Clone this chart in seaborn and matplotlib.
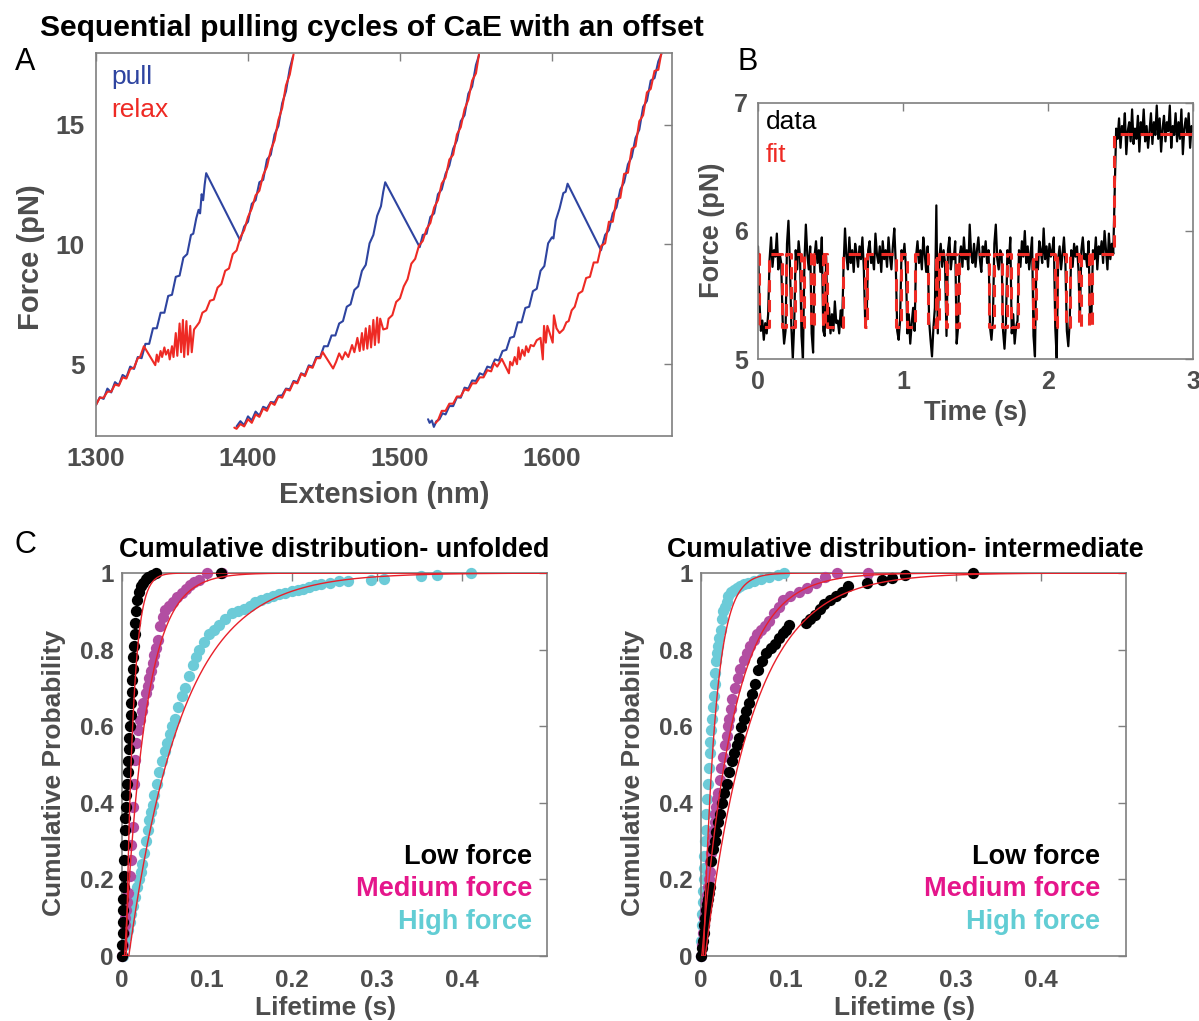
import numpy as np
import pandas as pd
import matplotlib
matplotlib.use("Agg")
import matplotlib.pyplot as plt
import seaborn as sns

# ---------------- Panel A: force-extension traces ----------------
c1_pull_ext = [1300.0,1302.5,1305.0,1307.5,1310.0,1312.5,1315.0,1317.5,1320.0,1322.5,1325.0,1327.5,1330.0,1332.5,1335.0,1337.5,1340.0,1342.5,1345.0,1347.5,1350.0,1352.5,1355.0,1357.5,1360.0,1362.5,1364.0,1366.0,1367.5,1368.5,1369.5,1370.5,1371.5,1372.5,1394.9,1397.5,1400.0,1402.5,1405.0,1407.5,1410.0,1412.5,1415.0,1417.5,1420.0,1422.5,1425.0,1427.5,1429.6]
c1_pull_f = [3.30,3.62,3.55,3.98,3.82,4.25,4.12,4.55,4.45,4.90,4.80,5.30,5.25,5.85,5.85,6.50,6.50,7.15,7.15,7.85,7.90,8.65,8.70,9.45,9.60,10.40,10.45,11.10,11.45,11.30,12.10,11.85,12.50,12.98,10.17,10.75,10.95,11.70,11.85,12.60,12.70,13.55,13.75,14.60,14.95,15.90,16.40,17.35,17.85]
c1_relax_ext = [1430.0,1427.5,1425.0,1422.5,1420.0,1417.5,1415.0,1412.5,1410.0,1407.5,1405.0,1402.5,1400.0,1397.5,1395.0,1392.5,1390.0,1387.5,1385.0,1382.5,1380.0,1377.5,1375.0,1372.5,1370.0,1368.0,1366.3,1364.5,1363.0,1362.0,1360.5,1359.5,1358.0,1357.2,1356.0,1355.0,1353.5,1352.5,1351.0,1350.0,1348.5,1347.5,1346.0,1345.0,1343.5,1342.5,1341.0,1340.0,1339.0,1331.5,1329.0,1327.5,1325.0,1322.5,1320.0,1317.5,1315.0,1312.5,1310.0,1307.5,1305.0,1302.5,1300.0]
c1_relax_f = [17.95,17.10,16.65,15.70,15.20,14.35,13.95,13.25,12.90,12.25,12.05,11.50,11.15,10.60,10.30,9.75,9.60,9.00,8.90,8.35,8.20,7.70,7.65,7.25,7.15,6.75,6.60,6.45,5.50,6.60,5.40,6.80,5.30,6.85,5.50,6.70,5.35,6.30,5.30,5.75,5.20,5.60,5.40,5.70,5.30,5.55,5.10,5.40,4.96,5.75,5.30,5.25,4.85,4.80,4.40,4.45,4.10,4.15,3.85,3.85,3.60,3.60,3.30]

c2_pull_ext = [1392.5,1395.0,1397.5,1400.0,1402.5,1405.0,1407.5,1410.0,1412.5,1415.0,1417.5,1420.0,1422.5,1425.0,1427.5,1430.0,1432.5,1435.0,1437.5,1440.0,1442.5,1445.0,1447.5,1450.0,1452.5,1455.0,1457.5,1460.0,1462.5,1465.0,1467.5,1470.0,1472.5,1475.0,1477.5,1480.0,1482.5,1485.0,1487.5,1489.0,1490.3,1513.0,1515.0,1517.5,1520.0,1522.5,1525.0,1527.5,1530.0,1532.5,1535.0,1537.5,1540.0,1542.5,1545.0,1547.5,1550.0,1552.0]
c2_pull_f = [2.40,2.62,2.45,2.82,2.65,3.02,2.85,3.22,3.15,3.42,3.40,3.68,3.70,3.98,3.95,4.30,4.25,4.62,4.55,4.95,4.90,5.30,5.30,5.75,5.75,6.20,6.20,6.70,6.80,7.40,7.50,8.10,8.25,8.90,9.15,10.05,10.40,11.20,11.60,12.20,12.60,9.89,10.40,10.45,11.15,11.30,12.10,12.30,12.95,13.30,14.00,14.35,15.15,15.40,16.30,16.60,17.50,17.90]
c2_relax_ext = [1552.0,1550.0,1547.5,1545.0,1542.5,1540.0,1537.5,1535.0,1532.5,1530.0,1527.5,1525.0,1522.5,1520.0,1517.5,1515.0,1512.5,1510.0,1507.5,1505.0,1502.5,1500.0,1497.5,1495.0,1492.5,1491.5,1489.0,1487.0,1486.0,1485.0,1483.5,1482.5,1481.0,1480.0,1478.5,1477.5,1476.0,1475.0,1473.5,1472.0,1470.0,1468.5,1466.0,1464.0,1462.0,1460.0,1458.0,1456.0,1449.1,1447.5,1445.0,1442.5,1440.0,1437.5,1435.0,1432.5,1430.0,1427.5,1425.0,1422.5,1420.0,1417.5,1415.0,1412.5,1410.0,1407.5,1405.0,1402.5,1400.0,1397.5,1395.0,1392.5,1391.0]
c2_relax_f = [17.95,17.15,16.85,16.05,15.65,14.90,14.60,13.75,13.55,12.80,12.55,11.85,11.55,10.90,10.65,10.15,9.95,9.40,9.20,8.55,8.25,7.75,7.60,7.05,6.90,6.50,6.45,6.90,5.90,6.95,5.80,6.85,5.70,6.60,5.65,6.50,5.60,6.30,5.55,6.10,5.50,5.80,5.30,5.50,5.20,5.45,5.10,4.82,5.51,5.25,5.25,4.85,4.90,4.50,4.60,4.20,4.25,3.90,3.95,3.60,3.65,3.30,3.40,3.05,3.15,2.80,2.90,2.55,2.70,2.40,2.50,2.30,2.35]

c3_pull_ext = [1518.5,1519.5,1521.0,1522.3,1524.0,1526.0,1528.0,1530.0,1532.5,1535.0,1537.5,1540.0,1542.5,1545.0,1547.5,1550.0,1552.5,1555.0,1557.5,1560.0,1562.5,1565.0,1567.5,1570.0,1572.5,1575.0,1577.5,1580.0,1582.5,1585.0,1587.5,1590.0,1592.5,1595.0,1597.5,1600.0,1601.0,1602.5,1605.0,1607.5,1609.0,1610.3,1632.3,1635.0,1637.5,1640.0,1642.5,1645.0,1647.5,1650.0,1652.5,1655.0,1657.5,1660.0,1662.5,1665.0,1667.5,1670.0,1672.0]
c3_pull_f = [2.70,2.55,2.65,2.38,2.62,2.70,2.95,2.90,3.25,3.25,3.62,3.60,4.02,3.98,4.32,4.30,4.62,4.55,4.90,4.85,5.20,5.15,5.55,5.60,6.10,6.15,6.75,6.75,7.35,7.40,8.05,8.15,8.90,9.10,10.05,10.30,10.25,11.00,11.50,12.15,12.20,12.54,9.76,10.40,10.60,11.30,11.55,12.30,12.60,13.35,13.65,14.45,14.80,15.75,16.00,16.85,16.95,17.65,17.95]
c3_relax_ext = [1672.0,1670.0,1667.5,1665.0,1662.5,1660.0,1657.5,1655.0,1652.5,1650.0,1647.5,1645.0,1642.5,1640.0,1637.5,1635.0,1632.5,1630.0,1627.5,1625.0,1622.5,1620.0,1617.5,1615.0,1613.0,1611.0,1609.5,1607.5,1605.0,1603.0,1601.3,1600.5,1599.0,1597.0,1596.0,1594.8,1594.0,1592.5,1590.0,1588.0,1586.0,1584.5,1583.0,1582.0,1580.5,1579.0,1578.0,1577.0,1575.5,1574.0,1572.5,1571.7,1567.0,1564.0,1562.0,1560.0,1557.5,1555.0,1552.5,1550.0,1547.5,1545.0,1542.5,1540.0,1537.5,1535.0,1532.5,1530.0,1527.5,1525.0,1523.5]
c3_relax_f = [18.00,17.30,17.25,16.50,16.35,15.40,15.15,14.10,14.00,13.00,12.95,11.95,11.90,10.95,10.95,10.05,9.95,9.25,9.25,8.65,8.60,8.05,7.95,7.40,7.25,6.80,6.75,6.45,6.30,6.50,7.04,5.90,6.20,6.60,5.90,6.60,5.20,6.10,6.00,5.75,5.80,5.50,5.75,5.35,5.60,5.20,5.70,5.00,5.30,4.95,5.10,4.62,5.22,4.90,5.05,4.70,4.75,4.45,4.45,4.20,4.20,3.90,3.95,3.65,3.65,3.35,3.35,3.05,3.05,2.65,2.55]

# ---------------- Panel B: force vs time ----------------
time_step = 0.01
force_data = [
    5.88, 5.45, 5.22, 5.30, 5.15, 5.28, 5.20, 5.35, 5.78, 5.95,
    5.72, 5.85, 5.80, 5.98, 5.70, 5.82, 5.75, 5.30, 5.12, 5.22,
    5.90, 6.08, 5.75, 5.25, 5.00, 5.28, 5.85, 5.70, 5.92, 5.80,
    5.18, 5.00, 5.75, 6.05, 5.82, 5.70, 5.88, 5.20, 5.05, 5.80,
    5.92, 5.75, 5.85, 5.68, 5.95, 5.22, 5.18, 5.80, 5.25, 5.40,
    5.20, 5.35, 5.22, 5.45, 5.28, 5.30, 5.20, 5.38, 5.25, 5.72,
    6.02, 5.80, 5.70, 5.95, 5.75, 5.85, 5.68, 5.90, 5.82, 5.72,
    5.88, 5.78, 5.95, 5.70, 5.25, 5.35, 5.85, 5.92, 5.75, 5.80,
    5.70, 5.98, 5.82, 5.75, 5.88, 5.68, 5.92, 5.78, 5.85, 5.72,
    5.95, 5.80, 5.70, 5.88, 6.02, 5.75, 5.22, 5.15, 5.30, 5.85,
    5.78, 5.90, 5.72, 5.20, 5.35, 5.12, 5.28, 5.40, 5.22, 5.80,
    5.92, 5.75, 5.85, 5.70, 5.95, 5.82, 5.68, 5.88, 5.30, 5.15,
    5.02, 5.25, 5.40, 6.20, 5.20, 5.78, 5.90, 5.72, 5.85, 5.75,
    5.18, 5.85, 5.95, 5.70, 5.82, 5.78, 5.92, 5.12, 5.25, 5.80,
    5.88, 5.72, 5.95, 5.78, 5.85, 5.70, 6.05, 5.82, 5.75, 5.90,
    5.72, 5.85, 5.95, 5.78, 5.68, 5.88, 5.80, 5.92, 5.75, 5.85,
    5.25, 5.15, 5.30, 5.90, 6.05, 5.78, 5.70, 5.85, 5.82, 5.22,
    5.08, 5.28, 5.85, 5.75, 5.95, 5.20, 5.35, 5.12, 5.25, 5.30,
    5.85, 5.72, 5.92, 5.80, 6.00, 5.75, 5.88, 5.70, 5.82, 5.95,
    5.18, 5.02, 5.80, 5.70, 5.92, 5.85, 5.75, 6.02, 5.78, 5.88,
    5.72, 5.90, 5.80, 5.85, 5.95, 5.25, 5.00, 5.78, 5.88, 5.70,
    5.82, 5.95, 5.75, 5.22, 5.10, 5.30, 5.85, 5.72, 5.90, 5.80,
    5.88, 5.70, 5.30, 5.85, 5.95, 5.78, 5.82, 5.72, 5.92, 5.28,
    5.35, 5.85, 5.78, 5.95, 5.70, 5.88, 5.82, 5.92, 5.75, 6.00,
    5.85, 5.70, 5.98, 5.78, 5.90, 5.82, 6.30, 6.80, 6.72, 6.88,
    6.65, 6.82, 6.75, 6.92, 6.60, 6.78, 6.85, 6.70, 6.95, 6.68,
    6.80, 6.72, 6.90, 6.62, 6.85, 6.75, 6.95, 6.70, 6.82, 6.65,
    6.78, 6.92, 6.68, 6.85, 6.75, 6.98, 6.72, 6.88, 6.62, 6.80,
    6.90, 6.70, 6.85, 6.78, 6.98, 6.65, 6.82, 6.75, 6.92, 6.70,
    6.85, 6.72, 6.95, 6.60, 6.80, 6.88, 6.75, 6.92, 6.65, 6.82,
    6.78]
fit_low_start = [0.005,0.165,0.225,0.295,0.365,0.445,0.475,0.735,0.955,1.025,1.175,1.235,1.295,1.365,1.595,1.685,1.745,1.895,2.045,2.125,2.215,2.285]
fit_low_end   = [0.075,0.195,0.255,0.315,0.385,0.465,0.585,0.755,0.985,1.085,1.225,1.245,1.305,1.385,1.625,1.715,1.795,1.915,2.065,2.155,2.225,2.305]
fit_levels = [5.82, 5.25, 6.76]
fit_step_time = 2.455

# ---------------- Panel C: cumulative distributions ----------------
lo_unf_t = [0,0.0003,0.0006,0.001,0.0013,0.0016,0.002,0.0023,0.0027,0.003,0.0035,0.004,0.0045,0.005,0.0058,0.0065,0.0072,0.008,0.0087,0.0093,0.010,0.0106,0.0112,0.0118,0.0125,0.0132,0.014,0.0148,0.0155,0.0165,0.018,0.020,0.022,0.025,0.028,0.031,0.035,0.040,0.117]
lo_unf_p = [0,.03,.06,.09,.12,.15,.18,.21,.25,.29,.33,.36,.39,.42,.45,.48,.51,.54,.57,.60,.63,.66,.69,.72,.75,.78,.81,.84,.87,.90,.93,.95,.965,.975,.985,.99,.995,1.0,1.0]
me_unf_t = [0,0.001,0.002,0.003,0.004,0.005,0.006,0.0075,0.009,0.010,0.011,0.0125,0.0135,0.0145,0.0155,0.017,0.019,0.021,0.023,0.025,0.028,0.030,0.032,0.034,0.036,0.038,0.040,0.042,0.045,0.048,0.051,0.055,0.060,0.065,0.070,0.075,0.080,0.085,0.090,0.100,0.118]
me_unf_p = [0,.03,.06,.08,.10,.12,.14,.164,.21,.25,.29,.338,.39,.45,.512,.555,.59,.615,.64,.66,.686,.705,.725,.745,.765,.785,.805,.825,.861,.885,.904,.915,.925,.938,.948,.958,.968,.976,.983,1.0,1.0]
hi_unf_t = [0.001,0.003,0.005,0.007,0.009,0.011,0.013,0.0155,0.018,0.020,0.022,0.024,0.026,0.028,0.030,0.032,0.034,0.036,0.038,0.041,0.044,0.047,0.050,0.053,0.056,0.059,0.062,0.066,0.070,0.074,0.079,0.083,0.087,0.091,0.096,0.102,0.108,0.114,0.121,0.129,0.136,0.143,0.150,0.156,0.163,0.170,0.178,0.185,0.192,0.200,0.207,0.213,0.220,0.227,0.234,0.245,0.255,0.266,0.293,0.308,0.352,0.371,0.411]
hi_unf_p = [0,.03,.05,.067,.09,.11,.13,.154,.18,.20,.22,.24,.27,.30,.33,.355,.375,.395,.42,.45,.48,.51,.535,.555,.58,.60,.62,.65,.68,.70,.73,.76,.78,.80,.82,.84,.85,.865,.88,.895,.90,.905,.913,.925,.93,.935,.94,.945,.948,.952,.955,.958,.963,.969,.972,.975,.978,.978,.983,.984,.991,.995,1.0]

lo_int_t = [0,0.001,0.002,0.003,0.004,0.005,0.006,0.007,0.008,0.009,0.010,0.0117,0.014,0.016,0.018,0.020,0.022,0.025,0.0274,0.030,0.033,0.036,0.039,0.042,0.045,0.047,0.050,0.053,0.056,0.060,0.064,0.0676,0.072,0.077,0.082,0.087,0.092,0.097,0.100,0.103,0.123,0.128,0.134,0.140,0.145,0.152,0.159,0.166,0.173,0.195,0.213,0.225,0.240,0.320]
lo_int_p = [0,.02,.04,.06,.08,.10,.12,.135,.15,.164,.18,.247,.28,.30,.325,.35,.37,.40,.425,.45,.48,.51,.53,.55,.57,.599,.62,.64,.66,.685,.71,.747,.77,.79,.805,.815,.83,.843,.85,.865,.87,.88,.89,.905,.92,.93,.94,.95,.965,.974,.983,.987,.996,1.0]
me_int_t = [0,0.001,0.002,0.003,0.004,0.005,0.006,0.007,0.008,0.009,0.010,0.011,0.012,0.013,0.014,0.015,0.016,0.017,0.018,0.019,0.020,0.022,0.024,0.026,0.028,0.030,0.0315,0.033,0.035,0.037,0.040,0.043,0.046,0.050,0.054,0.058,0.062,0.066,0.070,0.075,0.080,0.086,0.092,0.097,0.105,0.115,0.125,0.135,0.146,0.160,0.197]
me_int_p = [0,.03,.06,.08,.10,.12,.14,.16,.18,.20,.22,.245,.27,.29,.31,.33,.35,.37,.39,.41,.425,.46,.49,.52,.55,.575,.60,.62,.645,.67,.70,.725,.75,.773,.79,.81,.825,.84,.85,.861,.875,.895,.91,.93,.94,.95,.962,.973,.99,1.0,1.0]
hi_int_t = [0,0.0005,0.001,0.0015,0.002,0.0025,0.003,0.0035,0.004,0.005,0.0055,0.006,0.007,0.008,0.009,0.010,0.011,0.012,0.013,0.014,0.015,0.016,0.017,0.018,0.019,0.020,0.021,0.023,0.025,0.026,0.028,0.030,0.032,0.035,0.039,0.042,0.046,0.050,0.055,0.062,0.070,0.080,0.090,0.098]
hi_int_p = [0,.04,.08,.11,.14,.17,.20,.23,.26,.30,.33,.37,.41,.45,.49,.53,.56,.59,.62,.65,.68,.71,.74,.77,.79,.81,.83,.85,.88,.90,.91,.925,.94,.95,.956,.96,.965,.97,.975,.98,.985,.99,.995,1.0]

# exponential fits: (onset, time constant) for low, medium, high force
fit_onset_unf = [0.005, 0.003, 0.008]
fit_tau_unf = [0.0082, 0.025, 0.063]
fit_onset_int = [0.005, 0.001, 0.003]
fit_tau_int = [0.056, 0.038, 0.014]

force_names = ["Low force", "Medium force", "High force"]
dot_colors = ["#000000", "#b24ea2", "#6ccbd8"]
legend_colors = ["#000000", "#e5168b", "#62cdd4"]

# ---------------- styling ----------------
sns.set_theme(style="white")
plt.rcParams["font.family"] = ["Liberation Sans", "DejaVu Sans"]
plt.rcParams["font.weight"] = "bold"
plt.rcParams["axes.labelweight"] = "bold"

W, H = 1199, 1021
fig = plt.figure(figsize=(W / 100, H / 100), dpi=100)

def px_axes(left, top, right, bottom):
    return fig.add_axes([left / W, 1 - bottom / H, (right - left) / W, (bottom - top) / H])

axA = px_axes(96, 53, 672, 436)
axB = px_axes(758, 103, 1193, 359)
axC1 = px_axes(122, 573, 547, 956)
axC2 = px_axes(701, 573, 1126, 956)

GRAY = "#7f7f7f"
LABEL = "#4d4d4d"

def style(ax, tsize, xpad, ypad):
    for sp in ax.spines.values():
        sp.set_color(GRAY)
        sp.set_linewidth(1.2)
    ax.tick_params(direction="in", length=6, width=1.0, color=GRAY,
                   top=True, right=True, labelcolor=LABEL, labelsize=tsize)
    ax.tick_params(axis="x", pad=xpad)
    ax.tick_params(axis="y", pad=ypad)
    ax.grid(False)

BLUE = "#2e44a0"
RED = "#ee2a24"

# ---- Panel A ----
for ex, f in [(c1_pull_ext, c1_pull_f), (c2_pull_ext, c2_pull_f), (c3_pull_ext, c3_pull_f)]:
    sns.lineplot(x=ex, y=f, ax=axA, color=BLUE, lw=1.5, sort=False, estimator=None)
for ex, f in [(c1_relax_ext, c1_relax_f), (c2_relax_ext, c2_relax_f), (c3_relax_ext, c3_relax_f)]:
    sns.lineplot(x=ex, y=f, ax=axA, color=RED, lw=1.5, sort=False, estimator=None)
axA.set_xlim(1300, 1679)
axA.set_ylim(2.0, 18.0)
axA.set_xticks([1300, 1400, 1500, 1600])
axA.set_yticks([5, 10, 15])
style(axA, 19, 8, 8)
axA.set_xlabel("Extension (nm)", fontsize=21, color=LABEL)
axA.set_ylabel("Force (pN)", fontsize=21, color=LABEL)
axA.xaxis.set_label_coords(0.5, -0.154)
axA.xaxis.label.set_va("center")
axA.yaxis.set_label_coords(-0.113, 0.468)
axA.yaxis.label.set_va("center")
axA.text(0.026, 0.938, "pull", transform=axA.transAxes, color=BLUE, fontsize=19,
         fontweight="normal", va="center", ha="left")
axA.text(0.026, 0.851, "relax", transform=axA.transAxes, color=RED, fontsize=19,
         fontweight="normal", va="center", ha="left")

# ---- Panel B ----
t_data = np.arange(len(force_data)) * time_step
sns.lineplot(x=t_data, y=force_data, ax=axB, color="black", lw=1.6, sort=False, estimator=None)
fit_t = [0.0]
fit_f = [fit_levels[0]]
for a, b in zip(fit_low_start, fit_low_end):
    fit_t += [a, a, b, b]
    fit_f += [fit_levels[0], fit_levels[1], fit_levels[1], fit_levels[0]]
fit_t += [fit_step_time, fit_step_time, 3.0]
fit_f += [fit_levels[0], fit_levels[2], fit_levels[2]]
sns.lineplot(x=fit_t, y=fit_f, ax=axB, color=RED, lw=2.2, sort=False, estimator=None,
             linestyle=(0, (4, 2.5)))
axB.set_xlim(0, 3)
axB.set_ylim(5, 7)
axB.set_xticks([0, 1, 2, 3])
axB.set_yticks([5, 6, 7])
style(axB, 18, 8, 7)
axB.set_xlabel("Time (s)", fontsize=19.5, color=LABEL)
axB.set_ylabel("Force (pN)", fontsize=19.5, color=LABEL)
axB.xaxis.set_label_coords(0.499, -0.212)
axB.xaxis.label.set_va("center")
axB.yaxis.set_label_coords(-0.106, 0.504)
axB.yaxis.label.set_va("center")
axB.text(0.018, 0.926, "data", transform=axB.transAxes, color="black", fontsize=19,
         fontweight="normal", va="center", ha="left")
axB.text(0.018, 0.797, "fit", transform=axB.transAxes, color=RED, fontsize=19,
         fontweight="normal", va="center", ha="left")

# ---- Panel C ----
tfit = np.linspace(0, 0.5, 800)

def cdf_panel(ax, series, order, onsets, taus, legend_x, title_x, title):
    for i in order:
        t, p = series[i]
        sns.scatterplot(x=t, y=p, ax=ax, color=dot_colors[i], s=66, linewidth=0,
                        clip_on=False, zorder=2 + order.index(i))
    for x0, tau in zip(onsets, taus):
        yfit = np.where(tfit > x0, 1 - np.exp(-(tfit - x0) / tau), 0.0)
        sns.lineplot(x=tfit, y=yfit, ax=ax, color="#e8202a", lw=1.0, zorder=10)
    ax.set_xlim(0, 0.5)
    ax.set_ylim(0, 1)
    ax.set_xticks([0, 0.1, 0.2, 0.3, 0.4])
    ax.set_xticklabels(["0", "0.1", "0.2", "0.3", "0.4"])
    ax.set_yticks([0, 0.2, 0.4, 0.6, 0.8, 1.0])
    ax.set_yticklabels(["0", "0.2", "0.4", "0.6", "0.8", "1"])
    style(ax, 17.5, 9, 6)
    ax.set_xlabel("Lifetime (s)", fontsize=19, color=LABEL)
    ax.set_ylabel("Cumulative Probability", fontsize=19, color=LABEL)
    ax.xaxis.set_label_coords(0.48, -0.136)
    ax.xaxis.label.set_va("center")
    ax.yaxis.set_label_coords(-0.161, 0.479)
    ax.yaxis.label.set_va("center")
    for k, yy in enumerate([0.258, 0.176, 0.089]):
        ax.text(legend_x, yy, force_names[k], transform=ax.transAxes, color=legend_colors[k],
                fontsize=19.5, fontweight="bold", ha="right", va="center")
    fig.text(title_x / W, 1 - 550 / H, title, fontsize=19.4, fontweight="bold",
             color="black", ha="center", va="center")

cdf_panel(axC1, [(lo_unf_t, lo_unf_p), (me_unf_t, me_unf_p), (hi_unf_t, hi_unf_p)],
          [2, 1, 0], fit_onset_unf, fit_tau_unf, 0.965, 334,
          "Cumulative distribution- unfolded")
cdf_panel(axC2, [(lo_int_t, lo_int_p), (me_int_t, me_int_p), (hi_int_t, hi_int_p)],
          [2, 1, 0], fit_onset_int, fit_tau_int, 0.939, 905,
          "Cumulative distribution- intermediate")

# ---- figure texts ----
fig.text(372 / W, 1 - 28 / H, "Sequential pulling cycles of CaE with an offset",
         fontsize=21.6, fontweight="bold", color="black", ha="center", va="center")
for letter, (x, y) in {"A": (25, 62), "B": (748, 62), "C": (25, 545)}.items():
    fig.text(x / W, 1 - y / H, letter, fontsize=22, fontweight="normal", color="black",
             ha="center", va="center")

fig.savefig("out.png", dpi=100)
